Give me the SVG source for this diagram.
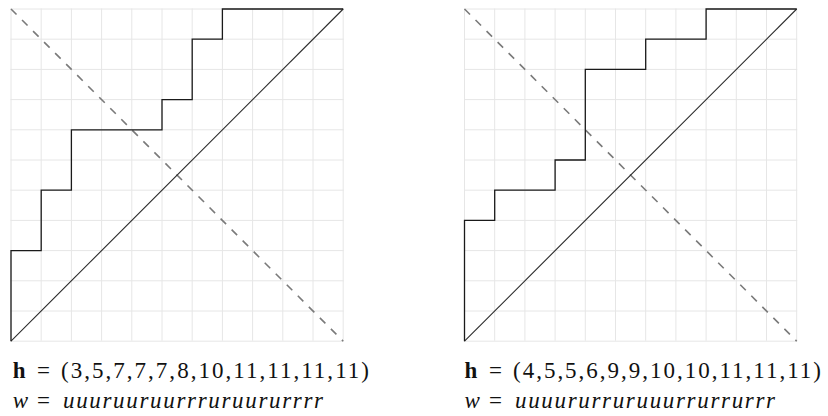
<svg xmlns="http://www.w3.org/2000/svg" width="828" height="416" viewBox="0 0 828 416">
<style>
.grid{fill:none;stroke:#e6e6e6;stroke-width:1}
.path{fill:none;stroke:#1a1a1a;stroke-width:1.3;stroke-linejoin:miter}
.diag{fill:none;stroke:#2a2a2a;stroke-width:1.1}
.dash{fill:none;stroke:#7a7a7a;stroke-width:1.6;stroke-dasharray:7.8 7.8}
text{font-family:"Liberation Serif","Times New Roman",serif;font-size:23px;fill:#111}
.b{font-weight:bold}
.i{font-style:italic}
</style>
<defs>
<path id="g" class="grid" d="M0.5 0V332.2M30.7 0V332.2M60.9 0V332.2M91.1 0V332.2M121.3 0V332.2M151.5 0V332.2M181.7 0V332.2M211.9 0V332.2M242.1 0V332.2M272.3 0V332.2M302.5 0V332.2M332.7 0V332.2M0 0.5H333.2M0 30.7H333.2M0 60.9H333.2M0 91.1H333.2M0 121.3H333.2M0 151.5H333.2M0 181.7H333.2M0 211.9H333.2M0 242.1H333.2M0 272.3H333.2M0 302.5H333.2M0 332.7H333.2"/>
</defs>
<g id="left">
<use href="#g" x="10.5" y="8.5"/>
<path class="dash" d="M11 9L343.2 341.2"/>
<path class="diag" d="M11 341.2L343.2 9"/>
<path class="path" d="M11 341.2V250.6H41.2V190.2H71.4V129.8H162V99.6H192.2V39.2H222.4V9H343.2"/>
<text class="b" x="12.7" y="378">h</text>
<text x="37" y="378">=</text>
<text x="61" y="378" textLength="308" lengthAdjust="spacing">(3,5,7,7,7,8,10,11,11,11,11)</text>
<text class="i" x="12.7" y="407.5">w</text>
<text x="37" y="407.5">=</text>
<text class="i" x="63" y="407.5" textLength="260" lengthAdjust="spacing">uuuruuruurrruruururrrr</text>
</g>
<g id="right">
<use href="#g" x="464" y="8.5"/>
<path class="dash" d="M464.5 9L796.7 341.2"/>
<path class="diag" d="M464.5 341.2L796.7 9"/>
<path class="path" d="M464.5 341.2V220.4H494.7V190.2H555.1V160H585.3V69.4H645.7V39.2H706.1V9H796.7"/>
<text class="b" x="464.5" y="378">h</text>
<text x="489" y="378">=</text>
<text x="513" y="378" textLength="308" lengthAdjust="spacing">(4,5,5,6,9,9,10,10,11,11,11)</text>
<text class="i" x="464.5" y="407.5">w</text>
<text x="489" y="407.5">=</text>
<text class="i" x="515" y="407.5" textLength="260" lengthAdjust="spacing">uuuururruruuurrurrurrr</text>
</g>
</svg>
